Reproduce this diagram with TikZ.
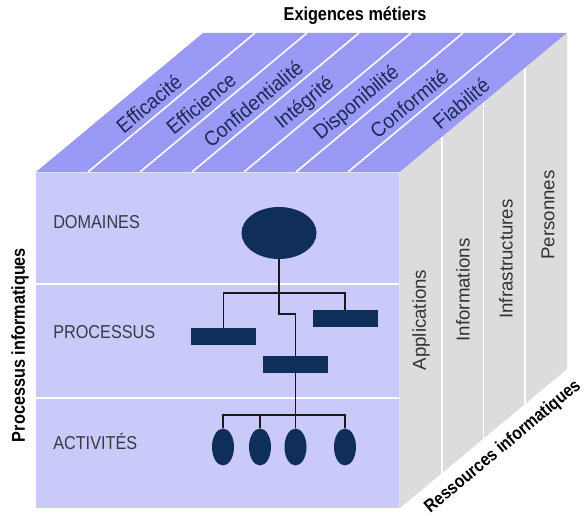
\documentclass[tikz,border=0pt]{standalone}
\usepackage{fontspec}
\setmainfont{Liberation Sans}
\newfontfamily\narrowfont[FakeStretch=0.87]{Liberation Sans}
\newfontfamily\diagfont[FakeStretch=0.93]{Liberation Sans}
\usetikzlibrary{shapes.geometric}
\definecolor{frontc}{HTML}{CACAFA}
\definecolor{topc}{HTML}{9A9AF6}
\definecolor{sidec}{HTML}{DCDCDC}
\definecolor{orgc}{HTML}{0F2E5A}
\definecolor{critc}{HTML}{1C2858}
\definecolor{lvlc}{HTML}{383848}

\begin{document}
\begin{tikzpicture}[x=0.75pt,y=0.75pt,
  lvl/.style={font=\narrowfont\fontsize{14}{16}\selectfont, text=lvlc, anchor=west, inner sep=0pt},
  crit/.style={font=\diagfont\fontsize{15.5}{17}\selectfont, text=critc, rotate=39.8, inner sep=0pt},
  res/.style={font=\fontsize{14}{16}\selectfont, text=black!80, rotate=90, inner sep=0pt},
  axislbl/.style={font=\narrowfont\bfseries\fontsize{14}{16}\selectfont, inner sep=0pt},
  orgbox/.style={rectangle, fill=orgc, minimum width=48.75pt, minimum height=12.75pt, inner sep=0pt},
  leaf/.style={ellipse, fill=orgc, minimum width=16.5pt, minimum height=27.75pt, inner sep=0pt},
  link/.style={draw=black!90, line width=0.8pt}]
  \def\ax{364}\def\ay{336}\def\dx{167}\def\dy{139}
  \useasboundingbox (-36,-8) rectangle (549,508);
  % front face (processes)
  \fill[frontc] (0,0) rectangle (\ax,\ay);
  \draw[white, line width=1.2pt] (0,224) -- (\ax,224) (0,110) -- (\ax,110);
  \draw[white!40!frontc, line width=1.5pt] (0,\ay) -- (\ax,\ay) -- (\ax,0);
  % top face (requirements)
  \fill[topc] (0,\ay) -- (\dx,\ay+\dy) -- (\ax+\dx,\ay+\dy) -- (\ax,\ay) -- cycle;
  \foreach \k in {1,...,6}
    \draw[white, line width=1.2pt] (52*\k,\ay) -- (52*\k+\dx,\ay+\dy);
  % right face (resources)
  \fill[sidec] (\ax,0) -- (\ax+\dx,\dy) -- (\ax+\dx,\ay+\dy) -- (\ax,\ay) -- cycle;
  \foreach \k in {1,2,3}
    \draw[white, line width=1.2pt] (\ax+\k*\dx/4,\k*\dy/4) -- (\ax+\k*\dx/4,\ay+\k*\dy/4);

  % requirement labels
  \foreach \t [count=\k] in {Efficacité,Efficience,Confidentialité,Intégrité,Disponibilité,Conformité,Fiabilité}
    \node[crit] (crit\k) at (52*\k+61,\ay+\dy/2-1) {\t};

  % resource labels
  \node[res] (app) at (385,188) {Applications};
  \node[res] (info) at (427,218) {Informations};
  \node[res] (infra) at (470,249) {Infrastructures};
  \node[res] (pers) at (512,293) {Personnes};

  % level labels
  \node[lvl] (dom-l) at (17,286) {DOMAINES};
  \node[lvl] (proc-l) at (17,176) {PROCESSUS};
  \node[lvl] (act-l) at (17,66) {ACTIVITÉS};

  % org chart
  \node[ellipse, fill=orgc, minimum width=56.25pt, minimum height=39pt, inner sep=0pt] (dom) at (243,275) {};
  \node[orgbox] (p1) at (187.5,171.5) {};
  \node[orgbox] (p2) at (259.5,143.5) {};
  \node[orgbox] (p3) at (309,189) {};
  \node[leaf] (a1) at (187,61) {};
  \node[leaf] (a2) at (224,61) {};
  \node[leaf] (a3) at (259.5,61) {};
  \node[leaf] (a4) at (309,61) {};
  \coordinate (pbus) at (243,215);
  \coordinate (pjog) at (243,194);
  \coordinate (abus) at (259.5,93);
  \draw[link] (dom.south) -- (pjog) -| (p2.north);
  \draw[link] (p1.north) |- (pbus) -| (p3.north);
  \draw[link] (p2.south) -- (abus);
  \foreach \a in {a1,a2,a3,a4}
    \draw[link] (\a.north) |- (abus);

  % axis labels
  \node[axislbl] (req) at (319,492) {Exigences métiers};
  \node[axislbl, rotate=90] (proc) at (-16,163) {Processus informatiques};
  \node[axislbl, rotate=39.8, font=\narrowfont\bfseries\fontsize{13.5}{15}\selectfont] (ress) at (467,61) {Ressources informatiques};
\end{tikzpicture}
\end{document}
